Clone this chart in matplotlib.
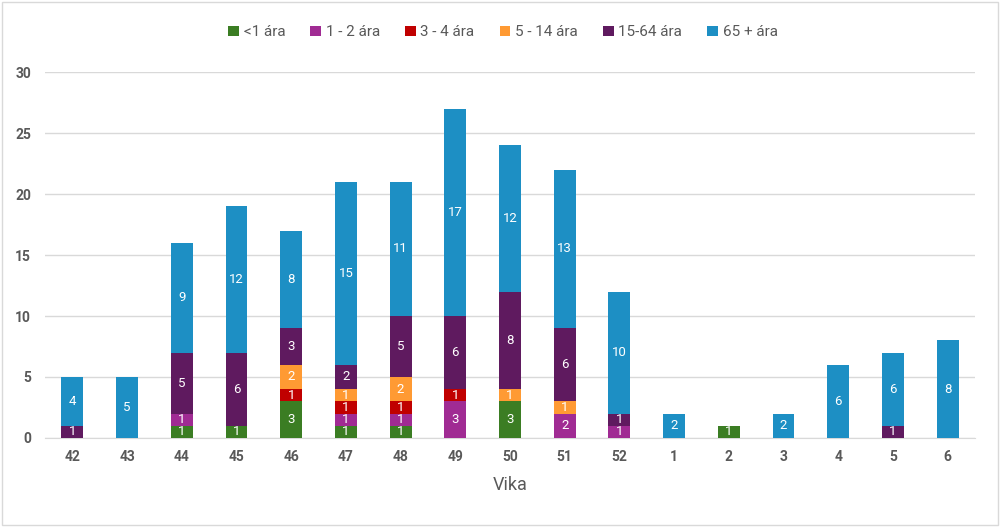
import numpy as np
import matplotlib.pyplot as plt
from matplotlib.patches import Rectangle

plt.rcParams['font.family'] = ['Roboto', 'DejaVu Sans']

# GÖGN
vikur = ['42', '43', '44', '45', '46', '47', '48', '49', '50', '51', '52',
         '1', '2', '3', '4', '5', '6']
flokkar = ['<1 ára', '1 - 2 ára', '3 - 4 ára', '5 - 14 ára', '15-64 ára', '65 + ára']
undir1 = [0, 0, 1, 1, 3, 1, 1, 0, 3, 0, 0, 0, 1, 0, 0, 0, 0]
ar1_2 = [0, 0, 1, 0, 0, 1, 1, 3, 0, 2, 1, 0, 0, 0, 0, 0, 0]
ar3_4 = [0, 0, 0, 0, 1, 1, 1, 1, 0, 0, 0, 0, 0, 0, 0, 0, 0]
ar5_14 = [0, 0, 0, 0, 2, 1, 2, 0, 1, 1, 0, 0, 0, 0, 0, 0, 0]
ar15_64 = [1, 0, 5, 6, 3, 2, 5, 6, 8, 6, 1, 0, 0, 0, 0, 1, 0]
ar65 = [4, 5, 9, 12, 8, 15, 11, 17, 12, 13, 10, 2, 0, 2, 6, 6, 8]

litir = ['#3B7D23', '#A02B93', '#C00000', '#FF9A33', '#5F1A5F', '#1D8FC4']
raðir = [undir1, ar1_2, ar3_4, ar5_14, ar15_64, ar65]

# GRAF
fig = plt.figure(figsize=(10, 5.27), dpi=100)
ax = fig.add_axes([0.045, 0.169, 0.93, 0.694])

x = np.arange(len(vikur))
botn = np.zeros(len(vikur))
for nafn, gildi, litur in zip(flokkar, raðir, litir):
    gildi = np.array(gildi)
    ax.bar(x, gildi, 0.4, bottom=botn, color=litur, label=nafn, zorder=3)
    for i in range(len(x)):
        if gildi[i] > 0:
            ax.text(x[i], botn[i] + gildi[i] / 2, str(gildi[i]), ha='center',
                    va='center', color='white', fontsize=9.5, zorder=4)
    botn = botn + gildi

ax.set_xlim(-0.5, len(vikur) - 0.5)
ax.set_ylim(0, 30)
ax.set_yticks(range(0, 31, 5))
ax.set_xticks(x)
ax.set_xticklabels(vikur)
ax.grid(axis='y', color='#D9D9D9', linewidth=1, zorder=0)
for s in ['top', 'right', 'left']:
    ax.spines[s].set_visible(False)
ax.spines['bottom'].set_color('#D9D9D9')
ax.tick_params(length=0, colors='#595959', labelsize=10)
ax.tick_params(axis='x', pad=9)
ax.tick_params(axis='y', pad=10)
for t in ax.get_xticklabels() + ax.get_yticklabels():
    t.set_fontweight('bold')
ax.set_xlabel('Vika', fontsize=13, color='#595959', labelpad=8)

fig.legend(loc='upper center', bbox_to_anchor=(0.503, 0.978), ncol=6, frameon=False,
           fontsize=11, handlelength=0.7, handleheight=0.7, handletextpad=0.3,
           columnspacing=1.65, labelcolor='#595959')

fig.add_artist(Rectangle((0.002, 0.003), 0.996, 0.994, transform=fig.transFigure,
                         fill=False, edgecolor='#D9D9D9', linewidth=1))

plt.savefig('out.png')
